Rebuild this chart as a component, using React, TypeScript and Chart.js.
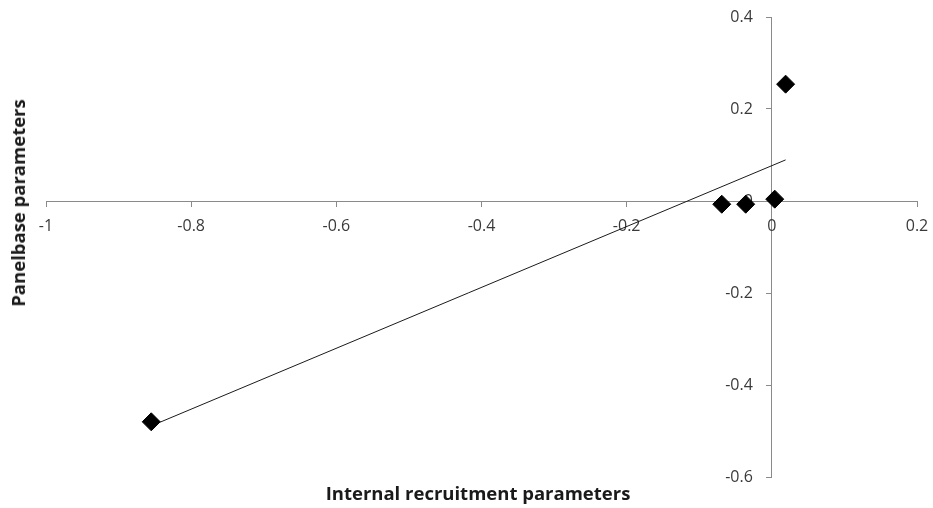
import React, { useEffect, useRef } from "react";
import { Chart, registerables } from "chart.js";

Chart.register(...registerables);

// Parameter estimates: internal recruitment (x) vs Panelbase (y)
const internalParams = [0.019, 0.004, -0.036, -0.069, -0.855];
const panelbaseParams = [0.254, 0.004, -0.007, -0.007, -0.48];

const xTicks = [-1, -0.8, -0.6, -0.4, -0.2, 0, 0.2];
const yTicks = [-0.6, -0.4, -0.2, 0, 0.2, 0.4];

const xTitle = "Internal recruitment parameters";
const yTitle = "Panelbase parameters";

// Least-squares fit across the plotted points
function linearFit(xs: number[], ys: number[]) {
  const n = xs.length;
  const mx = xs.reduce((a, b) => a + b, 0) / n;
  const my = ys.reduce((a, b) => a + b, 0) / n;
  let sxy = 0;
  let sxx = 0;
  for (let i = 0; i < n; i++) {
    sxy += (xs[i] - mx) * (ys[i] - my);
    sxx += (xs[i] - mx) * (xs[i] - mx);
  }
  const slope = sxy / sxx;
  return { slope, intercept: my - slope * mx };
}

const AXIS_COLOR = "#8a8a8a";
const TEXT_COLOR = "#3a3a3a";
const FONT = "'Open Sans', 'Liberation Sans', sans-serif";

// Tick labels for axes that cross at the origin, offset away from the axis lines
const crossingTickLabels = {
  id: "crossingTickLabels",
  beforeDatasetsDraw(chart: any) {
    const { ctx, scales } = chart;
    const xs = scales.x;
    const ys = scales.y;
    const xAxisY = ys.getPixelForValue(0);
    const yAxisX = xs.getPixelForValue(0);
    ctx.save();
    ctx.fillStyle = TEXT_COLOR;
    ctx.font = `16px ${FONT}`;
    ctx.textAlign = "center";
    ctx.textBaseline = "middle";
    for (const v of xTicks) {
      ctx.fillText(String(v), xs.getPixelForValue(v), xAxisY + 25);
    }
    ctx.textAlign = "right";
    for (const v of yTicks) {
      ctx.fillText(String(v), yAxisX - 19, ys.getPixelForValue(v));
    }
    ctx.restore();
  },
};

export default function App() {
  const canvasRef = useRef<HTMLCanvasElement | null>(null);

  useEffect(() => {
    document.body.style.margin = "0";
    const canvas = canvasRef.current;
    if (!canvas) return;

    const points = internalParams.map((x, i) => ({ x, y: panelbaseParams[i] }));
    const { slope, intercept } = linearFit(internalParams, panelbaseParams);
    const xMin = Math.min(...internalParams);
    const xMax = Math.max(...internalParams);
    const trend = [
      { x: xMin, y: slope * xMin + intercept },
      { x: xMax, y: slope * xMax + intercept },
    ];

    const chart = new Chart(canvas, {
      type: "scatter",
      data: {
        datasets: [
          {
            type: "line",
            data: trend,
            borderColor: "#1a1a1a",
            borderWidth: 1,
            pointRadius: 0,
            fill: false,
            order: 2,
          },
          {
            data: points,
            pointStyle: "rectRot",
            pointRadius: 9,
            pointBackgroundColor: "#000000",
            pointBorderColor: "#000000",
            pointBorderWidth: 1,
            order: 1,
          },
        ],
      },
      options: {
        animation: false,
        responsive: false,
        maintainAspectRatio: false,
        layout: { padding: { left: 46, right: 16, top: 17, bottom: 31 } },
        plugins: {
          legend: { display: false },
          tooltip: { enabled: false },
        },
        scales: {
          x: {
            type: "linear",
            position: { y: 0 },
            min: -1,
            max: 0.2,
            afterBuildTicks: (axis: any) => {
              axis.ticks = xTicks.map((v) => ({ value: v }));
            },
            grid: {
              drawOnChartArea: false,
              drawTicks: true,
              tickLength: 5,
              color: AXIS_COLOR,
            },
            border: { display: true, color: AXIS_COLOR, width: 1 },
            ticks: { display: false },
          },
          y: {
            type: "linear",
            position: { x: 0 },
            min: -0.6,
            max: 0.4,
            afterBuildTicks: (axis: any) => {
              axis.ticks = yTicks.map((v) => ({ value: v }));
            },
            grid: {
              drawOnChartArea: false,
              drawTicks: true,
              tickLength: 5,
              color: AXIS_COLOR,
            },
            border: { display: true, color: AXIS_COLOR, width: 1 },
            ticks: { display: false },
          },
        },
      },
      plugins: [crossingTickLabels],
    } as any);

    return () => chart.destroy();
  }, []);

  return (
    <div style={{ position: "absolute", left: 0, top: 0, width: 933, height: 508, background: "#ffffff" }}>
      <canvas ref={canvasRef} width={933} height={508} style={{ display: "block" }} />
      <div
        style={{
          position: "absolute",
          left: 0,
          top: 481,
          width: 956,
          textAlign: "center",
          fontFamily: FONT,
          fontWeight: 700,
          fontSize: 18.5,
          color: "#1a1a1a",
          lineHeight: "24px",
        }}
      >
        {xTitle}
      </div>
      <div
        style={{
          position: "absolute",
          left: 18,
          top: 203,
          transform: "translate(-50%, -50%) rotate(-90deg)",
          whiteSpace: "nowrap",
          fontFamily: FONT,
          fontWeight: 700,
          fontSize: 18.5,
          color: "#1a1a1a",
          lineHeight: "24px",
        }}
      >
        {yTitle}
      </div>
    </div>
  );
}
